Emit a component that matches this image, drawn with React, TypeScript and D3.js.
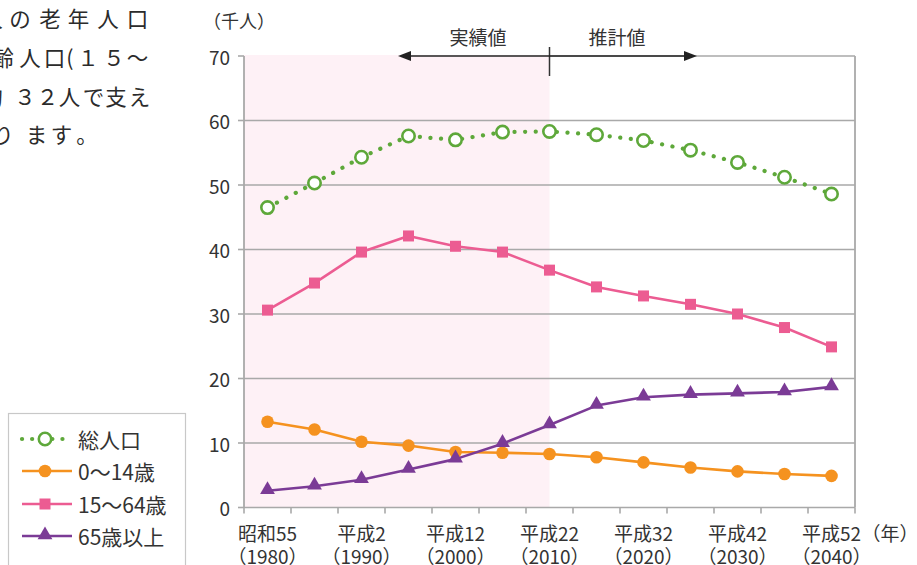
import React from "react";
import * as d3 from "d3";

const years = [1980, 1985, 1990, 1995, 2000, 2005, 2010, 2015, 2020, 2025, 2030, 2035, 2040];
const totalPop = [46.5, 50.3, 54.3, 57.6, 57.0, 58.2, 58.3, 57.8, 56.9, 55.4, 53.5, 51.2, 48.6];
const age0to14 = [13.3, 12.1, 10.2, 9.6, 8.6, 8.5, 8.3, 7.8, 7.0, 6.2, 5.6, 5.2, 4.9];
const age15to64 = [30.6, 34.8, 39.6, 42.1, 40.5, 39.6, 36.8, 34.2, 32.8, 31.5, 30.0, 27.9, 24.9];
const age65plus = [2.6, 3.3, 4.3, 5.9, 7.5, 9.9, 12.8, 15.8, 17.1, 17.5, 17.7, 17.9, 18.7];

const eraLabels = ["昭和55", "平成2", "平成12", "平成22", "平成32", "平成42", "平成52"];
const yearLabels = ["（1980）", "（1990）", "（2000）", "（2010）", "（2020）", "（2030）", "（2040）"];
const labelYears = [1980, 1990, 2000, 2010, 2020, 2030, 2040];
const yTicks = [0, 10, 20, 30, 40, 50, 60, 70];
const seriesNames = ["総人口", "0～14歳", "15～64歳", "65歳以上"];
const actualEndYear = 2010;

const paraLine1 = ["人", "の", "老", "年", "人", "口"];
const paraLine2 = ["齢", "人", "口", "(", "１", "５", "～"];
const paraLine3 = ["約", "３", "２", "人", "で", "支", "え"];
const paraLine4 = ["な", "り", "ま", "す", "。"];

const GREEN = "#5ea83a";
const ORANGE = "#f5921f";
const PINK = "#ec5c92";
const PURPLE = "#7b3b96";
const GRID = "#a9a9a9";
const TEXT = "#333333";
const FONT = "'Noto Sans CJK JP', 'Noto Sans', sans-serif";

export default function App() {
  const left = 244, right = 855, top = 56, bottom = 507.5;
  const x = d3.scaleBand<number>().domain(years).range([left, right]).padding(0);
  const cx = (yr: number) => (x(yr) as number) + x.bandwidth() / 2;
  const y = d3.scaleLinear().domain([0, 70]).range([bottom, top]);
  const line = d3
    .line<number>()
    .x((_, i) => cx(years[i]))
    .y((v) => y(v));

  const pinkEnd = cx(actualEndYear);
  const tri = d3.symbol().type(d3.symbolTriangle).size(95)();

  const paraLines = [
    { chars: paraLine1, xs: [-8, 20, 50, 78.5, 108, 137.5], cy: 17 },
    { chars: paraLine2, xs: [3, 30, 54.5, 70, 88, 114, 137.5], cy: 56 },
    { chars: paraLine3, xs: [-8, 25, 47.5, 69.5, 93.5, 116, 139.5], cy: 95 },
    { chars: paraLine4, xs: [-24, 3, 36.5, 61.5, 87], cy: 133 },
  ];

  const legendY = [439, 471, 504, 536];

  const markerGreen = (px: number, py: number, k: string) => (
    <circle key={k} cx={px} cy={py} r={6.2} fill="#fff" stroke={GREEN} strokeWidth={2.6} />
  );
  const markerOrange = (px: number, py: number, k: string) => (
    <circle key={k} cx={px} cy={py} r={6.3} fill={ORANGE} />
  );
  const markerPink = (px: number, py: number, k: string) => (
    <rect key={k} x={px - 5.5} y={py - 5.5} width={11} height={11} fill={PINK} />
  );
  const markerPurple = (px: number, py: number, k: string) => (
    <path key={k} d={tri as string} transform={`translate(${px},${py - 1})`} fill={PURPLE} />
  );

  const series = [
    { data: totalPop, color: GREEN, dotted: true, marker: markerGreen },
    { data: age0to14, color: ORANGE, dotted: false, marker: markerOrange },
    { data: age15to64, color: PINK, dotted: false, marker: markerPink },
    { data: age65plus, color: PURPLE, dotted: false, marker: markerPurple },
  ];

  return (
    <svg
      width={917}
      height={565}
      style={{ position: "absolute", left: 0, top: 0, background: "#fff" }}
      fontFamily={FONT}
    >
      {/* paragraph fragment */}
      {paraLines.map((l, i) =>
        l.chars.map((c, j) => (
          <text
            key={`p${i}-${j}`}
            x={l.xs[j]}
            y={l.cy}
            textAnchor="middle"
            dominantBaseline="central"
            fontSize={21.5}
            fill="#2b2b2b"
          >
            {c}
          </text>
        ))
      )}

      {/* shaded actual region */}
      <rect x={left} y={top - 1} width={pinkEnd - left} height={bottom - top + 1} fill="#fef1f6" />

      {/* gridlines */}
      {yTicks.map((t) =>
        t === 70 ? (
          <line key={t} x1={pinkEnd} x2={right} y1={y(t)} y2={y(t)} stroke={GRID} strokeWidth={1.6} />
        ) : (
          <line key={t} x1={left} x2={right} y1={y(t)} y2={y(t)} stroke={GRID} strokeWidth={1.6} />
        )
      )}
      {/* y ticks */}
      {yTicks.map((t) => (
        <line key={"yt" + t} x1={left - 6} x2={left} y1={y(t)} y2={y(t)} stroke={GRID} strokeWidth={1.6} />
      ))}
      {/* axes */}
      <line x1={left} x2={left} y1={y(70)} y2={bottom} stroke={GRID} strokeWidth={1.8} />
      <line x1={right} x2={right} y1={y(70)} y2={bottom} stroke={GRID} strokeWidth={1.8} />
      {/* x ticks */}
      {years.map((yr) => (
        <line
          key={"xt" + yr}
          x1={x(yr) as number}
          x2={x(yr) as number}
          y1={bottom}
          y2={bottom + 6}
          stroke={GRID}
          strokeWidth={1.6}
        />
      ))}
      <line x1={right} x2={right} y1={bottom} y2={bottom + 6} stroke={GRID} strokeWidth={1.6} />

      {/* y labels */}
      {yTicks.map((t) => (
        <text key={"yl" + t} x={230} y={y(t)} textAnchor="end" dominantBaseline="central" fontSize={19} fill={TEXT}>
          {t}
        </text>
      ))}
      <text x={203} y={20} dominantBaseline="central" fontSize={18} fill={TEXT}>
        （千人）
      </text>

      {/* x labels */}
      {labelYears.map((yr, i) => (
        <g key={"xl" + yr}>
          <text x={cx(yr)} y={532} textAnchor="middle" dominantBaseline="central" fontSize={19} fill={TEXT}>
            {eraLabels[i]}
          </text>
          <text x={cx(yr)} y={555} textAnchor="middle" dominantBaseline="central" fontSize={19} fill={TEXT}>
            {yearLabels[i]}
          </text>
        </g>
      ))}
      <text x={890} y={532} textAnchor="middle" dominantBaseline="central" fontSize={19} fill={TEXT}>
        （年）
      </text>

      {/* actual / projected annotation */}
      <line x1={pinkEnd} x2={pinkEnd} y1={47} y2={76} stroke="#333" strokeWidth={1.5} />
      <line x1={408} x2={687} y1={y(70)} y2={y(70)} stroke="#222" strokeWidth={1.6} />
      <path d={`M398,${y(70)} L411,${y(70) - 5} L411,${y(70) + 5} Z`} fill="#222" />
      <path d={`M697,${y(70)} L684,${y(70) - 5} L684,${y(70) + 5} Z`} fill="#222" />
      <text x={478} y={36} textAnchor="middle" dominantBaseline="central" fontSize={19} fill={TEXT}>
        実績値
      </text>
      <text x={617} y={36} textAnchor="middle" dominantBaseline="central" fontSize={19} fill={TEXT}>
        推計値
      </text>

      {/* series lines */}
      {series.map((s, si) => (
        <path
          key={"ln" + si}
          d={line(s.data) as string}
          fill="none"
          stroke={s.color}
          strokeWidth={s.dotted ? 4.2 : 2.6}
          strokeDasharray={s.dotted ? "0.1 10.5" : undefined}
          strokeLinecap={s.dotted ? "round" : "butt"}
          strokeLinejoin="round"
        />
      ))}
      {series.map((s, si) =>
        s.data.map((v, i) => s.marker(cx(years[i]), y(v), `m${si}-${i}`))
      )}

      {/* legend */}
      <rect x={8.5} y={413.5} width={177} height={170} fill="#fff" stroke="#c8c8c8" strokeWidth={1.2} />
      {series.map((s, si) => (
        <g key={"lg" + si}>
          <line
            x1={22}
            x2={72}
            y1={legendY[si]}
            y2={legendY[si]}
            stroke={s.color}
            strokeWidth={s.dotted ? 4.2 : 2.6}
            strokeDasharray={s.dotted ? "0.1 10" : undefined}
            strokeLinecap={s.dotted ? "round" : "butt"}
          />
          {s.marker(45, legendY[si], "lgm" + si)}
          <text x={78} y={legendY[si]} dominantBaseline="central" fontSize={21} fill={TEXT}>
            {seriesNames[si]}
          </text>
        </g>
      ))}
    </svg>
  );
}
